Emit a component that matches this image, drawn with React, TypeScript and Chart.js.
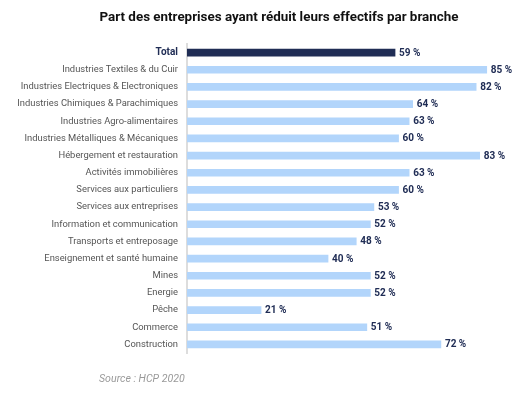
import React, { useEffect, useRef } from "react";
import { Chart, registerables } from "chart.js";

Chart.register(...registerables);

const categories = [
  "Total",
  "Industries Textiles & du Cuir",
  "Industries Electriques & Electroniques",
  "Industries Chimiques & Parachimiques",
  "Industries Agro-alimentaires",
  "Industries Métalliques & Mécaniques",
  "Hébergement et restauration",
  "Activités immobilières",
  "Services aux particuliers",
  "Services aux entreprises",
  "Information et communication",
  "Transports et entreposage",
  "Enseignement et santé humaine",
  "Mines",
  "Energie",
  "Pêche",
  "Commerce",
  "Construction",
];

const values = [59, 85, 82, 64, 63, 60, 83, 63, 60, 53, 52, 48, 40, 52, 52, 21, 51, 72];

const titleText = "Part des entreprises ayant réduit leurs effectifs par branche";
const sourceText = "Source : HCP 2020";

const NAVY = "#202d55";
const LIGHT = "#b2d5fb";
const FONT = "Roboto, 'DejaVu Sans', sans-serif";

export default function App() {
  const ref = useRef<HTMLCanvasElement | null>(null);

  useEffect(() => {
    if (!ref.current) return;
    const extras = {
      id: "extras",
      afterDatasetsDraw(chart: any) {
        const ctx = chart.ctx;
        const meta = chart.getDatasetMeta(0);
        ctx.save();
        ctx.font = `bold 10px ${FONT}`;
        ctx.fillStyle = NAVY;
        ctx.textBaseline = "middle";
        ctx.textAlign = "left";
        meta.data.forEach((bar: any, i: number) => {
          ctx.fillText(`${values[i]} %`, bar.x + 4, bar.y + 0.5);
        });
        ctx.restore();
      },
      afterDraw(chart: any) {
        const ctx = chart.ctx;
        ctx.save();
        ctx.font = `bold 13.4px ${FONT}`;
        ctx.fillStyle = "#111111";
        ctx.textAlign = "center";
        ctx.textBaseline = "middle";
        ctx.fillText(titleText, 279, 18);
        ctx.font = `italic 10.6px ${FONT}`;
        ctx.fillStyle = "#9a9a9a";
        ctx.textAlign = "left";
        ctx.fillText(sourceText, 99, 379);
        ctx.restore();
      },
    };

    const chart = new Chart(ref.current, {
      type: "bar",
      data: {
        labels: categories,
        datasets: [
          {
            data: values,
            backgroundColor: categories.map((_, i) => (i === 0 ? NAVY : LIGHT)),
            barThickness: 7,
            borderWidth: 0,
          },
        ],
      },
      options: {
        indexAxis: "y",
        responsive: false,
        animation: false,
        layout: { padding: { top: 44, bottom: 43, right: 5, left: 0 } },
        plugins: {
          legend: { display: false },
          title: { display: false },
          tooltip: { enabled: false },
        },
        scales: {
          x: { display: false, min: 0, max: 95 },
          y: {
            grid: { display: false, drawTicks: false },
            border: { display: true, color: "#dddddd", width: 2 },
            afterFit: (scale: any) => {
              scale.width = 187;
            },
            ticks: {
              padding: 9,
              autoSkip: false,
              color: (c: any) => (c.index === 0 ? NAVY : "#555555"),
              font: (c: any) =>
                c.index === 0
                  ? { family: FONT, size: 10, weight: "bold" }
                  : { family: FONT, size: 9.4 },
            },
          },
        },
      },
      plugins: [extras],
    } as any);
    return () => chart.destroy();
  }, []);

  return (
    <div style={{ position: "absolute", left: 0, top: 0, width: 527, height: 396, background: "#fff" }}>
      <canvas ref={ref} width={527} height={396} />
    </div>
  );
}
